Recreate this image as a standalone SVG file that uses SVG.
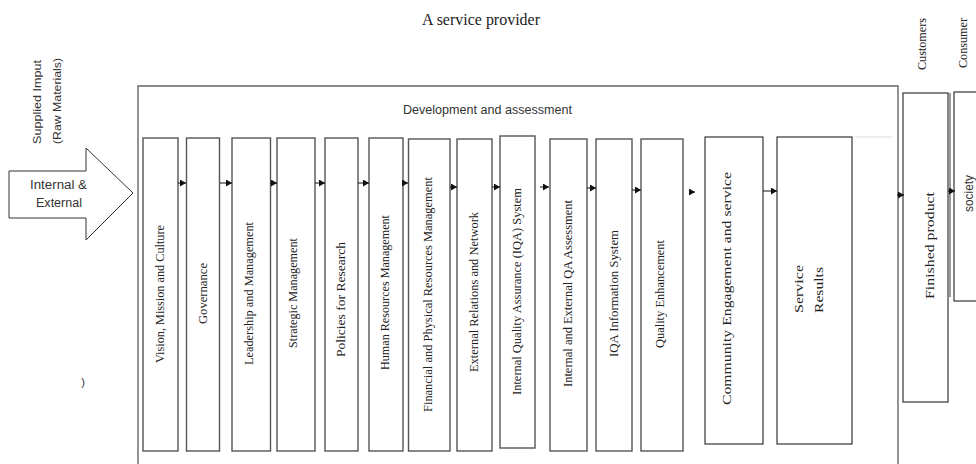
<svg xmlns="http://www.w3.org/2000/svg" width="976" height="464" viewBox="0 0 976 464">
  <defs>
    <marker id="ah" markerUnits="userSpaceOnUse" markerWidth="7" markerHeight="7" refX="6" refY="3.5" orient="auto">
      <path d="M0,0 L6,3.5 L0,7 z" fill="#111"/>
    </marker>
  </defs>
  <style>
    .bx { fill: #fff; stroke: #555; stroke-width: 1.4; }
    .bk { fill: #fff; stroke: #222; stroke-width: 1.1; }
    .outer { fill: none; stroke: #666; stroke-width: 1.4; }
    .serif { font-family: "Liberation Serif", "Times New Roman", serif; fill: #222; }
    .sans { font-family: "Liberation Sans", Arial, sans-serif; fill: #333; }
    .lbl { font-size: 13.5px; text-anchor: middle; dominant-baseline: central; }
    .con { stroke: #111; stroke-width: 1; fill: none; marker-end: url(#ah); }
  </style>
  <rect width="976" height="464" fill="#fff"/>

  <!-- headers -->
  <text class="serif" x="481" y="25" font-size="16" text-anchor="middle" textLength="118" lengthAdjust="spacingAndGlyphs">A service provider</text>
  <text class="sans" transform="translate(37,144) rotate(-90)" font-size="11.5" textLength="84" lengthAdjust="spacingAndGlyphs" dominant-baseline="central">Supplied Imput</text>
  <text class="sans" transform="translate(57,144) rotate(-90)" font-size="11.5" textLength="86" lengthAdjust="spacingAndGlyphs" dominant-baseline="central">(Raw Materials)</text>
  <text class="serif" transform="translate(922,70) rotate(-90)" font-size="12" textLength="52" lengthAdjust="spacingAndGlyphs" dominant-baseline="central">Customers</text>
  <text class="serif" transform="translate(963,68) rotate(-90)" font-size="12" textLength="50" lengthAdjust="spacingAndGlyphs" dominant-baseline="central">Consumer</text>
  <text class="sans" x="83" y="382" font-size="11" fill="#888" text-anchor="middle" dominant-baseline="central">)</text>

  <!-- outer service provider box (open bottom) -->
  <g id="service-provider">
    <path class="outer" d="M138,464 L138,86 L898,86 L898,464"/>
    <text class="sans" x="487.5" y="114" font-size="12" text-anchor="middle" textLength="169" lengthAdjust="spacingAndGlyphs">Development and assessment</text>
    <line x1="855" y1="137" x2="892" y2="137" stroke="#ddd" stroke-width="1"/>
  </g>

  <!-- input arrow -->
  <g id="input">
    <polygon points="9,171 86,171 86,148 133,193 86,240 86,218 9,218" fill="#fff" stroke="#333" stroke-width="1"/>
    <text class="sans" x="58.5" y="185" font-size="12.5" text-anchor="middle" dominant-baseline="central" textLength="57" lengthAdjust="spacingAndGlyphs">Internal &amp;</text>
    <text class="sans" x="59" y="203" font-size="12.5" text-anchor="middle" dominant-baseline="central" textLength="46" lengthAdjust="spacingAndGlyphs">External</text>
  </g>

  <g id="n1"><rect class="bx" x="143" y="138" width="35" height="313"/>
    <text class="serif lbl" transform="translate(159.5,294) rotate(-90)" textLength="138" lengthAdjust="spacingAndGlyphs">Vision, Mission and Culture</text></g>
  <g id="n2"><rect class="bx" x="186.5" y="138" width="33" height="313"/>
    <text class="serif lbl" transform="translate(202,293.5) rotate(-90)" textLength="61" lengthAdjust="spacingAndGlyphs">Governance</text></g>
  <g id="n3"><rect class="bx" x="232" y="138" width="38.5" height="313"/>
    <text class="serif lbl" transform="translate(248,293.5) rotate(-90)" textLength="143" lengthAdjust="spacingAndGlyphs">Leadership and Management</text></g>
  <g id="n4"><rect class="bx" x="277" y="138" width="38" height="313"/>
    <text class="serif lbl" transform="translate(292.5,293) rotate(-90)" textLength="110" lengthAdjust="spacingAndGlyphs">Strategic Management</text></g>
  <g id="n5"><rect class="bx" x="325" y="138" width="33" height="313"/>
    <text class="serif lbl" transform="translate(340.5,299.5) rotate(-90)" textLength="115" lengthAdjust="spacingAndGlyphs">Policies for Research</text></g>
  <g id="n6"><rect class="bx" x="369" y="138" width="34" height="313"/>
    <text class="serif lbl" transform="translate(384,292.5) rotate(-90)" textLength="155" lengthAdjust="spacingAndGlyphs">Human Resources Management</text></g>
  <g id="n7"><rect class="bx" x="408.5" y="139" width="41.5" height="312"/>
    <text class="serif lbl" transform="translate(427.5,294.5) rotate(-90)" textLength="235" lengthAdjust="spacingAndGlyphs">Financial and Physical Resources Management</text></g>
  <g id="n8"><rect class="bx" x="457" y="139" width="35" height="312"/>
    <text class="serif lbl" transform="translate(473.5,292) rotate(-90)" textLength="160" lengthAdjust="spacingAndGlyphs">External Relations and Network</text></g>
  <g id="n9"><rect class="bx" x="500" y="136" width="35" height="312"/>
    <text class="serif lbl" transform="translate(516,291.5) rotate(-90)" textLength="207" lengthAdjust="spacingAndGlyphs">Internal Quality Assurance (IQA) System</text></g>
  <g id="n10"><rect class="bx" x="550" y="139" width="37" height="312"/>
    <text class="serif lbl" transform="translate(567.5,293.5) rotate(-90)" textLength="187" lengthAdjust="spacingAndGlyphs">Internal and External QA Assessment</text></g>
  <g id="n11"><rect class="bx" x="596" y="139" width="36" height="312"/>
    <text class="serif lbl" transform="translate(613,293.5) rotate(-90)" textLength="127" lengthAdjust="spacingAndGlyphs">IQA Information System</text></g>
  <g id="n12"><rect class="bx" x="641" y="139" width="42" height="312"/>
    <text class="serif lbl" transform="translate(659,294) rotate(-90)" textLength="108" lengthAdjust="spacingAndGlyphs">Quality Enhancement</text></g>
  <g id="n13"><rect class="bk" x="705" y="137" width="58" height="307"/>
    <text class="serif lbl" transform="translate(726,288.5) rotate(-90)" font-size="17" textLength="233" lengthAdjust="spacingAndGlyphs">Community Engagement and service</text></g>
  <g id="n14"><rect class="bk" x="777" y="137" width="75" height="307"/>
    <text class="serif lbl" transform="translate(798,289) rotate(-90)" font-size="17" textLength="48" lengthAdjust="spacingAndGlyphs">Service</text>
    <text class="serif lbl" transform="translate(818,290) rotate(-90)" font-size="17" textLength="46" lengthAdjust="spacingAndGlyphs">Results</text></g>
  <g id="finished"><rect class="bk" x="903" y="93" width="45" height="309"/>
    <line x1="950" y1="93" x2="950" y2="297" stroke="#333" stroke-width="1"/>
    <text class="serif lbl" transform="translate(929,245.5) rotate(-90)" font-size="16" textLength="107" lengthAdjust="spacingAndGlyphs">Finished product</text></g>
  <g id="society"><rect class="bk" x="954" y="92" width="30" height="209"/>
    <text class="sans lbl" transform="translate(968,193.5) rotate(-90)" font-size="10.5" textLength="37" lengthAdjust="spacingAndGlyphs">society</text></g>

  <g id="connectors">
    <line class="con" x1="178" y1="183" x2="186" y2="183"/>
    <line class="con" x1="220" y1="183" x2="232" y2="183"/>
    <line class="con" x1="270" y1="183" x2="277" y2="183"/>
    <line class="con" x1="315" y1="183" x2="325" y2="183"/>
    <line class="con" x1="358" y1="183" x2="369" y2="183"/>
    <line class="con" x1="403" y1="183" x2="408" y2="183"/>
    <line class="con" x1="450" y1="187" x2="457" y2="187"/>
    <line class="con" x1="492" y1="187" x2="500" y2="187"/>
    <line class="con" x1="540" y1="187" x2="549" y2="187"/>
    <line class="con" x1="587" y1="188" x2="596" y2="188"/>
    <line class="con" x1="632" y1="190" x2="641" y2="190"/>
    <line class="con" x1="689" y1="192" x2="695" y2="192"/>
    <line class="con" x1="763" y1="191" x2="777" y2="191"/>
    <line class="con" x1="897" y1="195" x2="904" y2="195"/>
    <line class="con" x1="948" y1="191" x2="955" y2="191"/>
  </g>
</svg>
